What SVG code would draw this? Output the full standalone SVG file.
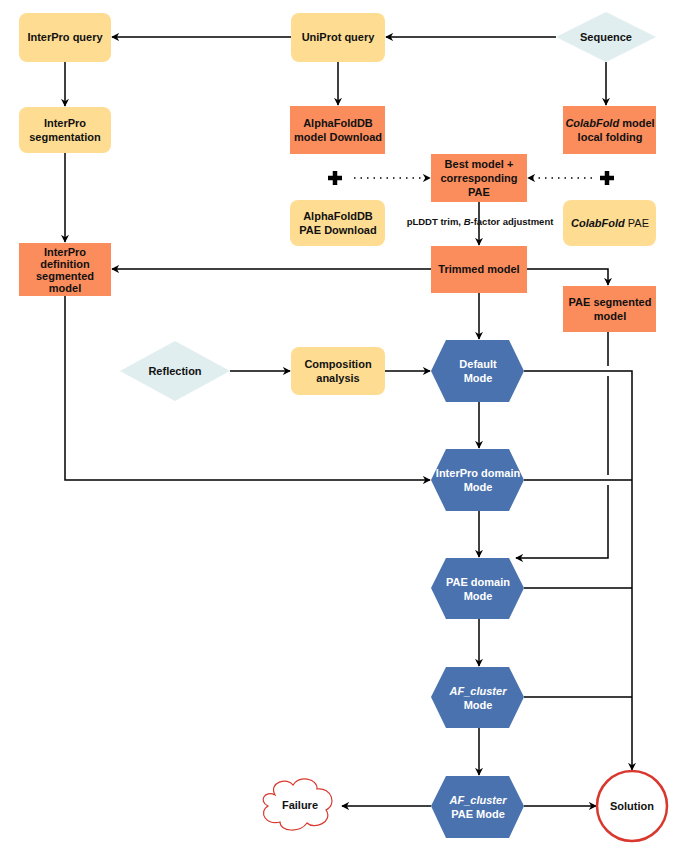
<svg xmlns="http://www.w3.org/2000/svg" width="693" height="849" viewBox="0 0 693 849">
<style>
text{font-family:"Liberation Sans",Arial,sans-serif;font-size:11px;font-weight:bold;text-anchor:middle;fill:#111}
.y{fill:#FEDD93}
.o{fill:#FB8C5C}
.h{fill:#4A72AF}
.h+text,.w{fill:#fff}
.d{fill:#E0EEEF}
.c{fill:none;stroke:#000;stroke-width:1.5}
.dot{fill:none;stroke:#000;stroke-width:1.5;stroke-dasharray:1.5 5}
</style>
<defs><marker id="a" viewBox="0 0 10 10" refX="9" refY="5" markerWidth="8" markerHeight="8" orient="auto" markerUnits="userSpaceOnUse"><path d="M0,0 L10,5 L0,10 L3,5z" fill="#000"/></marker></defs>
<g id="connectors">
<path class="c" d="M556,37H386" marker-end="url(#a)"/>
<path class="c" d="M291,37H112" marker-end="url(#a)"/>
<path class="c" d="M65,62V106" marker-end="url(#a)"/>
<path class="c" d="M65,153V242" marker-end="url(#a)"/>
<path class="c" d="M338,62V105" marker-end="url(#a)"/>
<path class="c" d="M606,62V105" marker-end="url(#a)"/>
<path class="dot" d="M354,178H430" marker-end="url(#a)"/>
<path class="dot" d="M592,178H528" marker-end="url(#a)"/>
<path class="c" d="M479,202V245" marker-end="url(#a)"/>
<path class="c" d="M431,269H112" marker-end="url(#a)"/>
<path class="c" d="M527,269H608V285" marker-end="url(#a)"/>
<path class="c" d="M479,293V339" marker-end="url(#a)"/>
<path class="c" d="M230,371H290" marker-end="url(#a)"/>
<path class="c" d="M385,371H430" marker-end="url(#a)"/>
<path class="c" d="M479,402V448" marker-end="url(#a)"/>
<path class="c" d="M65,296V480H430" marker-end="url(#a)"/>
<path class="c" d="M479,510V557" marker-end="url(#a)"/>
<path class="c" d="M608,332V366M608,376V475M608,485V558H516" marker-end="url(#a)"/>
<path class="c" d="M524,371H632V770" marker-end="url(#a)"/>
<path class="c" d="M524,480H632M524,588H632M524,697H632"/>
<path class="c" d="M479,619V666" marker-end="url(#a)"/>
<path class="c" d="M479,728V775" marker-end="url(#a)"/>
<path class="c" d="M524,806H596" marker-end="url(#a)"/>
<path class="c" d="M431,806H342" marker-end="url(#a)"/>
</g>
<g id="plus1"><path d="M335,171V185M328,178H342" stroke="#000" stroke-width="4.5"/></g>
<g id="plus2"><path d="M607,171V185M600,178H614" stroke="#000" stroke-width="4.5"/></g>
<g id="interpro_query"><rect class="y" x="19" y="13" width="92" height="49" rx="8"/><text x="65" y="41">InterPro query</text></g>
<g id="uniprot_query"><rect class="y" x="291" y="13" width="94" height="49" rx="8"/><text x="338" y="41">UniProt query</text></g>
<g id="sequence"><path class="d" d="M606,12L656,37L606,62L556,37z"/><text x="606" y="41">Sequence</text></g>
<g id="interpro_seg"><rect class="y" x="19" y="107" width="92" height="46" rx="8"/><text x="65" y="127">InterPro</text><text x="65" y="141">segmentation</text></g>
<g id="afdb_model"><rect class="o" x="290" y="106" width="95" height="48"/><text x="338" y="127">AlphaFoldDB</text><text x="338" y="141">model Download</text></g>
<g id="colab_model"><rect class="o" x="563" y="106" width="93" height="48"/><text x="610" y="127"><tspan font-style="italic">ColabFold</tspan> model</text><text x="610" y="141">local folding</text></g>
<g id="best"><rect class="o" x="431" y="154" width="96" height="48"/><text x="479" y="168">Best model +</text><text x="479" y="182">corresponding</text><text x="479" y="196">PAE</text></g>
<g id="afdb_pae"><rect class="y" x="290" y="200" width="95" height="46" rx="8"/><text x="338" y="220">AlphaFoldDB</text><text x="338" y="234">PAE Download</text></g>
<g id="colab_pae"><rect class="y" x="563" y="200" width="93" height="46" rx="8"/><text x="610" y="227"><tspan font-style="italic">ColabFold</tspan><tspan font-weight="normal"> PAE</tspan></text></g>
<text x="480" y="225" style="font-size:9.5px">pLDDT trim, <tspan font-style="italic">B</tspan>-factor adjustment</text>
<g id="trimmed"><rect class="o" x="431" y="246" width="96" height="47"/><text x="479" y="273">Trimmed model</text></g>
<g id="interpro_def"><rect class="o" x="19" y="243" width="92" height="53"/><text x="65" y="256">InterPro</text><text x="65" y="268">definition</text><text x="65" y="280">segmented</text><text x="65" y="292">model</text></g>
<g id="pae_seg"><rect class="o" x="563" y="286" width="93" height="46"/><text x="610" y="306">PAE segmented</text><text x="610" y="320">model</text></g>
<g id="reflection"><path class="d" d="M175,341L230,371L175,401L120,371z"/><text x="175" y="375">Reflection</text></g>
<g id="composition"><rect class="y" x="291" y="347" width="94" height="48" rx="8"/><text x="338" y="368">Composition</text><text x="338" y="382">analysis</text></g>
<g id="default"><path class="h" d="M446,340H509L524,371L509,402H446L431,371z"/><text class="w" x="478" y="368">Default</text><text class="w" x="478" y="382">Mode</text></g>
<g id="interpro_mode"><path class="h" d="M446,449H509L524,480L509,511H446L431,480z"/><text class="w" x="478" y="477">InterPro domain</text><text class="w" x="478" y="491">Mode</text></g>
<g id="pae_mode"><path class="h" d="M446,558H509L524,588L509,619H446L431,588z"/><text class="w" x="478" y="586">PAE domain</text><text class="w" x="478" y="600">Mode</text></g>
<g id="afc_mode"><path class="h" d="M446,667H509L524,697L509,728H446L431,697z"/><text class="w" x="478" y="695" font-style="italic">AF_cluster</text><text class="w" x="478" y="709">Mode</text></g>
<g id="afc_pae_mode"><path class="h" d="M446,776H509L524,806L509,838H446L431,806z"/><text class="w" x="478" y="804" font-style="italic">AF_cluster</text><text class="w" x="478" y="818">PAE Mode</text></g>
<g id="solution"><circle cx="632" cy="806" r="35" fill="#fff" stroke="#D9382E" stroke-width="2.5"/><text x="632" y="810">Solution</text></g>
<g id="failure"><path d="M275,795C268,782 288,777 293,785C298,775 318,778 317,789C332,787 337,805 326,810C334,822 314,830 307,823C300,833 280,832 280,822C266,826 258,812 268,806C258,801 265,790 275,795z" fill="#fff" stroke="#D9382E" stroke-width="1.2"/><text x="300" y="809">Failure</text></g>
</svg>
